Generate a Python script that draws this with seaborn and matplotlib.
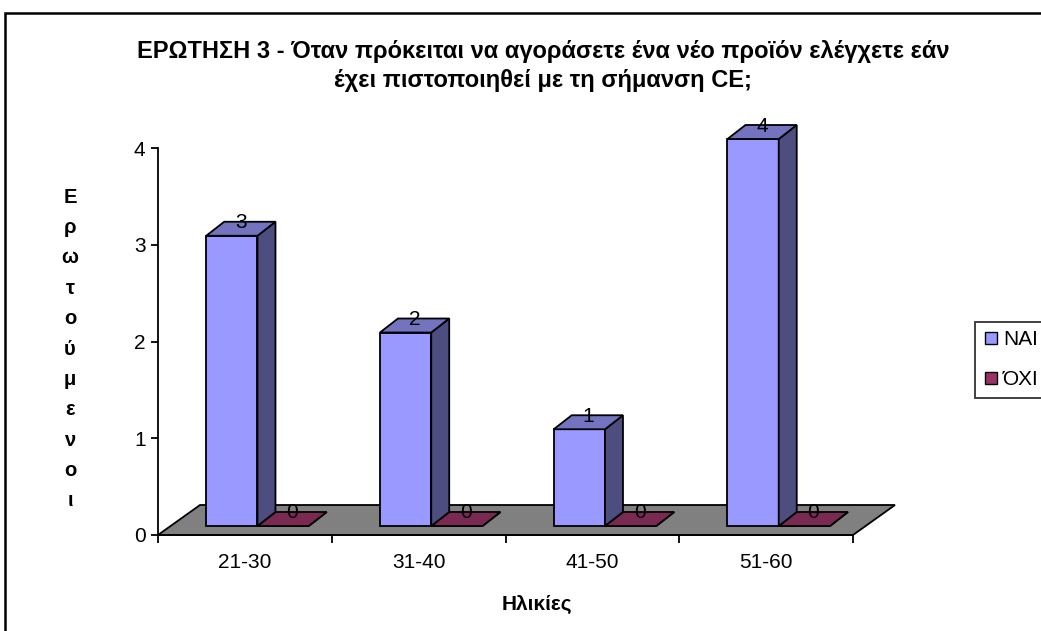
import pandas as pd
import seaborn as sns
import matplotlib.pyplot as plt
from matplotlib.patches import Polygon, Rectangle
from matplotlib.lines import Line2D

# data
ages = ['21-30', '31-40', '41-50', '51-60']
nai = [3, 2, 1, 4]
oxi = [0, 0, 0, 0]
answers = ['ΝΑΙ', 'ΌΧΙ']
title = ('ΕΡΩΤΗΣΗ 3 - Όταν πρόκειται να αγοράσετε ένα νέο προϊόν ελέγχετε εάν\n'
         'έχει πιστοποιηθεί με τη σήμανση CE;')
ylabel = 'Ερωτούμενοι'
xlabel = 'Ηλικίες'

df = pd.DataFrame({'age': ages * 2,
                   'count': nai + oxi,
                   'answer': [answers[0]] * len(ages) + [answers[1]] * len(ages)})

front = {'ΝΑΙ': '#9999FF', 'ΌΧΙ': '#993366'}
side = {'ΝΑΙ': '#4D4D80', 'ΌΧΙ': '#4D1A33'}
top = {'ΝΑΙ': '#7373BF', 'ΌΧΙ': '#7A2952'}

sns.set_theme(style='white')
plt.rcParams['font.family'] = ['Liberation Sans', 'DejaVu Sans']
plt.rcParams['text.color'] = 'black'
plt.rcParams['axes.labelcolor'] = 'black'
plt.rcParams['xtick.color'] = 'black'
plt.rcParams['ytick.color'] = 'black'

fig = plt.figure(figsize=(10.41, 6.31), dpi=100)
ax = fig.add_axes([158 / 1041, 1 - 535 / 631, 695 / 1041, 387 / 631])
ax.set_xlim(-0.5, 3.5)
ax.set_ylim(0, 4)

# pixel -> data helpers (fixed axes size)
px_x = 1 / 173.75
px_y = 1 / 96.75

# grey floor
fdx, fdy = 42 * px_x, 30 * px_y
floor = Polygon([(-0.5, 0), (3.5, 0), (3.5 + fdx, fdy), (-0.5 + fdx, fdy)],
                closed=True, fc='#808080', ec='black', lw=1.3, zorder=1, clip_on=False)
ax.add_patch(floor)

sns.barplot(data=df, x='age', y='count', hue='answer', hue_order=answers,
            palette=front, saturation=1, width=0.59, edgecolor='black', linewidth=1.3,
            legend=False, ax=ax, zorder=3)

# push bars back into the floor and give them depth
ox, oy = 12.6 * px_x, 9 * px_y
ddx, ddy = 18 * px_x, 14 * px_y
for cont, lvl in zip(ax.containers, answers):
    z = 3 if lvl == answers[0] else 2
    for r in cont:
        x, y = r.get_x() + ox, r.get_y() + oy
        w, h = r.get_width(), r.get_height()
        r.set_xy((x, y))
        r.set_zorder(z)
        r.set_clip_on(False)
        ax.add_patch(Polygon([(x + w, y), (x + w + ddx, y + ddy), (x + w + ddx, y + h + ddy), (x + w, y + h)],
                             closed=True, fc=side[lvl], ec='black', lw=1.3, zorder=z, clip_on=False))
        ax.add_patch(Polygon([(x, y + h), (x + w, y + h), (x + w + ddx, y + h + ddy), (x + ddx, y + h + ddy)],
                             closed=True, fc=top[lvl], ec='black', lw=1.3, zorder=z, clip_on=False))
        ax.text(x + w / 2 + ddx / 2, y + h + ddy - 1 * px_y, f'{int(round(h))}',
                ha='center', va='center', fontsize=15, color='black', zorder=5)

# axes look
for s in ['top', 'right']:
    ax.spines[s].set_visible(False)
ax.spines['left'].set_color('black')
ax.spines['bottom'].set_color('black')
ax.spines['left'].set_linewidth(1.3)
ax.spines['bottom'].set_linewidth(1.3)
ax.set_yticks(range(5))
ax.set_xticks(range(len(ages)))
ax.set_xticklabels(ages)
ax.set_xticks([i - 0.5 for i in range(len(ages) + 1)], minor=True)
ax.tick_params(axis='x', which='major', length=0, pad=13, labelsize=15)
ax.tick_params(axis='x', which='minor', length=6, width=1.3, direction='out', bottom=True)
ax.tick_params(axis='y', length=5, width=1.3, direction='out', pad=4, labelsize=15, left=True)
ax.set_xlabel('')
ax.set_ylabel('')
ax.set_facecolor('none')

# titles
fig.text(543 / 1041, 1 - 66 / 631, title, ha='center', va='center', fontsize=17,
         fontweight='bold', linespacing=1.32)
fig.text(70 / 1041, 1 - 349 / 631, '\n'.join(ylabel), ha='center', va='center',
         fontsize=14.5, fontweight='bold', linespacing=1.76)
fig.text(537 / 1041, 1 - 604 / 631, xlabel, ha='center', va='center', fontsize=15,
         fontweight='bold')

# legend
handles = [Line2D([], [], ls='none', marker='s', markersize=9, markerfacecolor=front[a],
                  markeredgecolor='black', markeredgewidth=1) for a in answers]
leg = fig.legend(handles, answers, loc='upper left', bbox_to_anchor=(975 / 1041, 1 - 322 / 631),
                 frameon=True, fancybox=False, fontsize=15, handlelength=0.7, handletextpad=0.25,
                 labelspacing=1.0, borderpad=0.4, borderaxespad=0)
leg.get_frame().set_edgecolor('black')
leg.get_frame().set_linewidth(1.3)

# outer chart border
fig.patches.append(Rectangle((5 / 1041, -0.1), 2, 1.1 - 13 / 631, transform=fig.transFigure,
                             fill=False, ec='black', lw=1.8))

fig.savefig('out.png', dpi=100)
